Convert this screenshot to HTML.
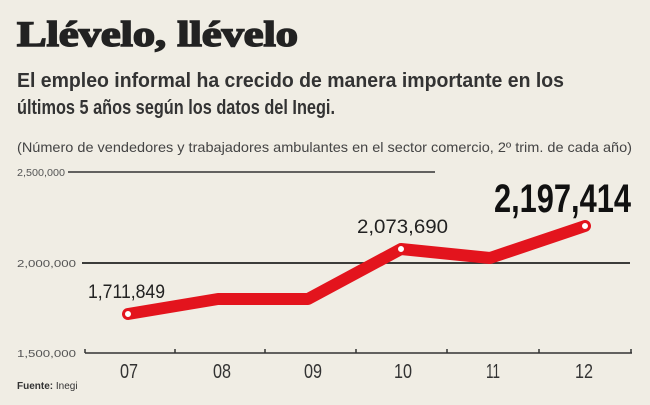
<!DOCTYPE html>
<html><head><meta charset="utf-8"><style>
body{margin:0;background:#f0ede4;}
svg{display:block}
</style></head><body>
<svg width="650" height="405" viewBox="0 0 650 405" xmlns="http://www.w3.org/2000/svg">
<rect width="650" height="405" fill="#f0ede4"/>
<text x="17" y="46" font-family="Liberation Serif, serif" font-weight="bold" font-size="36" fill="#222" stroke="#222" stroke-width="1.6" textLength="281" lengthAdjust="spacingAndGlyphs">Llévelo, llévelo</text>
<text x="17" y="87" font-family="Liberation Sans, sans-serif" font-weight="bold" font-size="20" fill="#333" textLength="547" lengthAdjust="spacingAndGlyphs">El empleo informal ha crecido de manera importante en los</text>
<text x="17" y="114" font-family="Liberation Sans, sans-serif" font-weight="bold" font-size="20" fill="#333" textLength="318" lengthAdjust="spacingAndGlyphs">últimos 5 años según los datos del Inegi.</text>
<text x="17" y="152" font-family="Liberation Sans, sans-serif" font-size="14" fill="#444" textLength="615" lengthAdjust="spacingAndGlyphs">(Número de vendedores y trabajadores ambulantes en el sector comercio, 2º trim. de cada año)</text>
<g font-family="Liberation Sans, sans-serif" font-size="10" fill="#555">
<text x="17" y="176" textLength="48" lengthAdjust="spacingAndGlyphs">2,500,000</text>
<text x="17" y="267" textLength="59" lengthAdjust="spacingAndGlyphs">2,000,000</text>
<text x="17" y="357" textLength="59" lengthAdjust="spacingAndGlyphs">1,500,000</text>
</g>
<line x1="68" y1="172" x2="435" y2="172" stroke="#333" stroke-width="1.5"/>
<line x1="82" y1="263" x2="630" y2="263" stroke="#222" stroke-width="1.8"/>
<line x1="85" y1="353" x2="632" y2="353" stroke="#333" stroke-width="1.5"/>
<g stroke="#333" stroke-width="1.5">
<line x1="85" y1="349" x2="85" y2="353"/><line x1="175" y1="349" x2="175" y2="353"/><line x1="265" y1="349" x2="265" y2="353"/><line x1="356" y1="349" x2="356" y2="353"/><line x1="447" y1="349" x2="447" y2="353"/><line x1="539" y1="349" x2="539" y2="353"/><line x1="631" y1="349" x2="631" y2="353"/>
</g>
<g font-family="Liberation Sans, sans-serif" font-size="20" fill="#333" text-anchor="middle">
<text x="129" y="378" textLength="18" lengthAdjust="spacingAndGlyphs">07</text>
<text x="222" y="378" textLength="18" lengthAdjust="spacingAndGlyphs">08</text>
<text x="313" y="378" textLength="18" lengthAdjust="spacingAndGlyphs">09</text>
<text x="403" y="378" textLength="18" lengthAdjust="spacingAndGlyphs">10</text>
<text x="493" y="378" textLength="14" lengthAdjust="spacingAndGlyphs">11</text>
<text x="584" y="378" textLength="18" lengthAdjust="spacingAndGlyphs">12</text>
</g>
<polyline points="128,314 218,299 308,299 401,249 490,258 585,226" fill="none" stroke="#e3141d" stroke-width="12" stroke-linejoin="round" stroke-linecap="round"/>
<g fill="#fff" stroke="#e3141d" stroke-width="1">
<circle cx="128" cy="314" r="3.5"/><circle cx="401" cy="249" r="3.5"/><circle cx="585" cy="226" r="3.5"/>
</g>
<text x="88" y="298" font-family="Liberation Sans, sans-serif" font-size="19" fill="#222" textLength="77" lengthAdjust="spacingAndGlyphs">1,711,849</text>
<text x="357" y="233" font-family="Liberation Sans, sans-serif" font-size="19" fill="#222" textLength="91" lengthAdjust="spacingAndGlyphs">2,073,690</text>
<text x="494" y="212" font-family="Liberation Sans, sans-serif" font-weight="bold" font-size="40" fill="#111" textLength="137" lengthAdjust="spacingAndGlyphs">2,197,414</text>
<text x="17" y="389" font-family="Liberation Sans, sans-serif" font-size="10" fill="#333"><tspan font-weight="bold">Fuente:</tspan> Inegi</text>
</svg>
</body></html>
